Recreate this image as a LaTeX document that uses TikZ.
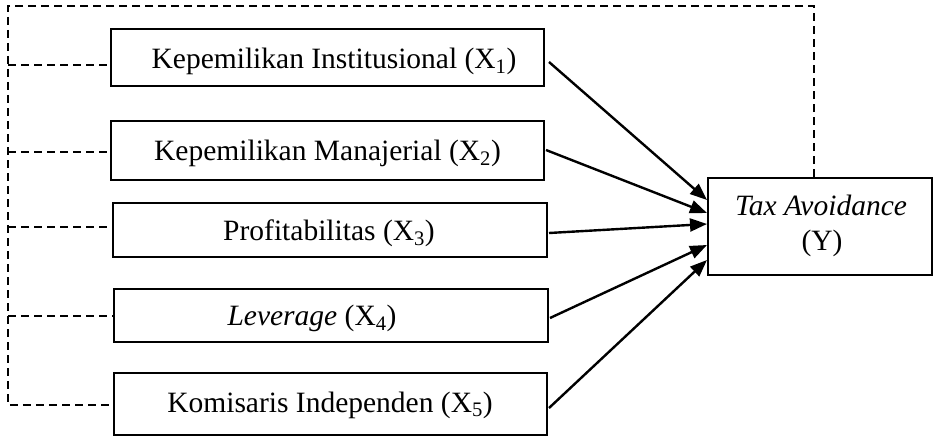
\documentclass[tikz,border=0pt]{standalone}
\usepackage{fontspec}
\setmainfont{Liberation Serif}
\usetikzlibrary{arrows.meta}
\begin{document}
\begin{tikzpicture}[x=1pt,y=-1pt,
  box/.style={draw, line width=2pt, inner sep=0pt, fill=white},
  lbl/.style={anchor=base, inner sep=0pt, font=\fontsize{29.5}{35}\selectfont},
  arr/.style={line width=2.4pt, -{Triangle[length=17pt,width=13pt]}},
  dsh/.style={line width=2pt, dash pattern=on 8pt off 5pt}]
\useasboundingbox (0,0) rectangle (933,436);
% boxes
\node[box, minimum width=433pt, minimum height=57pt] (b1) at (327.5,57.5) {};
\node[box, minimum width=433pt, minimum height=59pt] (b2) at (327.5,150.5) {};
\node[box, minimum width=434pt, minimum height=54pt] (b3) at (330,229.5) {};
\node[box, minimum width=434pt, minimum height=53pt] (b4) at (331,315.5) {};
\node[box, minimum width=433pt, minimum height=62pt] (b5) at (330.5,403.5) {};
\node[box, minimum width=224pt, minimum height=97pt] (y) at (820,226.5) {};
% labels
\node[lbl] (t1) at (334,68) {Kepemilikan Institusional (X\textsubscript{1})};
\node[lbl] (t2) at (327.5,160) {Kepemilikan Manajerial (X\textsubscript{2})};
\node[lbl] (t3) at (329,240) {Profitabilitas (X\textsubscript{3})};
\node[lbl] (t4) at (312,325) {\textit{Leverage} (X\textsubscript{4})};
\node[lbl] (t5) at (330,412) {Komisaris Independen (X\textsubscript{5})};
\node[lbl] (ty1) at (821,215) {\textit{Tax Avoidance}};
\node[lbl] (ty2) at (822,250) {(Y)};
% arrows
\draw[arr] ([xshift=4pt]b1.east |- 0,62) -- (y.west |- 0,200);
\draw[arr] ([xshift=1pt]b2.east |- 0,150) -- (y.west |- 0,213);
\draw[arr] ([xshift=1pt]b3.east |- 0,233) -- (y.west |- 0,224);
\draw[arr] ([xshift=1pt]b4.east |- 0,318) -- (y.west |- 0,245);
\draw[arr] ([xshift=1pt]b5.east |- 0,408) -- (y.west |- 0,260);
% dashed moderating lines
\coordinate (tl) at (8,6);
\coordinate (tr) at (814,6);
\coordinate (bl) at (8,405);
\draw[dsh] (y.north -| tr) -- (tr) -- (tl) -- (bl) -- (b5.west |- bl);
\draw[dsh] (8,65) -- (b1.west |- 0,65);
\draw[dsh] (8,152) -- (b2.west |- 0,152);
\draw[dsh] (8,227) -- (b3.west |- 0,227);
\draw[dsh] (8,316) -- (b4.west |- 0,316);
\end{tikzpicture}
\end{document}
